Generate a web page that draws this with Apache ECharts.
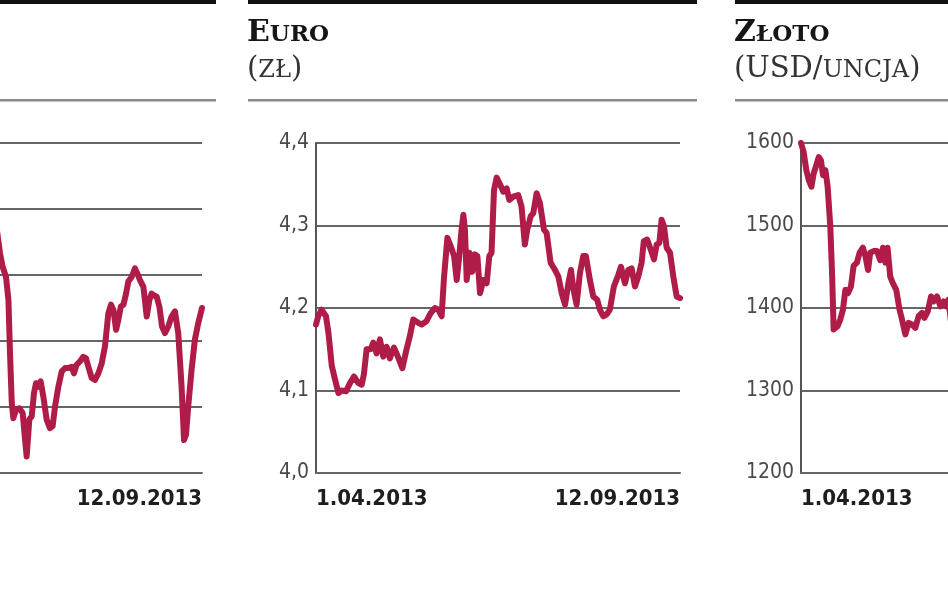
<!DOCTYPE html>
<html>
<head>
<meta charset="utf-8">
<script src="https://cdn.jsdelivr.net/npm/echarts@6/dist/echarts.min.js"></script>
<style>
html,body{margin:0;padding:0;background:#fff;}
#c{width:948px;height:593px;}
</style>
</head>
<body>
<div id="c"></div>
<script>
// x values: days since 1.04.2013 (last day 164 = 12.09.2013)
var xTickLabels = ['1.04.2013', '12.09.2013'];
var xTickDays = [0, 164];

// Left panel (only its right part is visible; its y labels are off-screen)
var leftDays = [71.5,73.0,74.2,75.7,76.8,77.5,78.3,79.0,80.2,81.7,83.2,84.3,85.0,86.2,87.3,88.3,89.2,90.3,91.3,92.5,94.0,95.5,96.7,97.8,99.3,100.8,102.3,103.8,105.3,106.3,107.5,109.0,110.5,111.7,112.8,114.3,115.8,117.3,118.8,120.3,121.8,123.0,124.1,125.3,126.3,127.4,128.6,129.8,130.8,132.3,133.8,134.9,136.1,137.6,139.1,140.3,141.3,142.4,143.6,144.8,146.0,147.3,148.8,150.3,151.8,153.3,154.8,155.9,156.8,157.8,159.3,160.8,162.3,164];
var leftValues = [2470,2433,2412,2397,2362,2281,2206,2183,2196,2198,2191,2150,2125,2181,2186,2221,2236,2231,2239,2216,2181,2168,2171,2201,2231,2254,2259,2259,2261,2251,2264,2269,2276,2274,2261,2244,2241,2251,2266,2292,2342,2355,2347,2317,2332,2352,2355,2372,2390,2397,2410,2402,2392,2382,2337,2362,2372,2369,2367,2352,2322,2312,2322,2337,2345,2312,2231,2150,2158,2201,2256,2302,2327,2350];
var leftTicks = ['2100','2200','2300','2400','2500','2600'];

// Euro (zł)
var euroDays = [0,1.0,2.5,4.5,5.6,7.1,8.6,10.1,11.6,13.5,15.3,17.1,19.1,20.6,21.6,22.8,24.6,25.8,27.3,28.8,30.3,31.8,33.3,35.1,36.6,38.9,40.8,42.3,43.8,46.1,47.6,49.8,51.7,53.6,55.1,56.6,57.7,59.2,60.7,62.2,63.4,64.4,65.6,66.4,67.1,67.9,69.1,70.4,71.5,72.7,73.9,75.4,76.9,78.1,79.1,80.2,81.4,82.9,84.4,85.9,87.1,88.9,91.1,92.6,94.1,95.2,96.7,97.9,99.4,100.9,102.7,103.9,105.7,107.7,109.2,110.7,112.2,113.7,114.9,115.9,117.4,118.9,120.4,121.6,123.4,124.9,126.7,127.9,129.4,130.9,132.4,134.2,136.2,137.4,139.2,140.7,142.2,143.7,145.2,146.7,147.7,149.2,150.8,152.3,153.5,154.7,155.7,156.8,158.0,159.5,161.0,162.5,164];
var euroValues = [4.180,4.190,4.198,4.190,4.170,4.130,4.113,4.097,4.100,4.099,4.109,4.117,4.109,4.107,4.120,4.150,4.150,4.158,4.145,4.162,4.141,4.153,4.139,4.152,4.143,4.127,4.150,4.166,4.186,4.182,4.180,4.184,4.194,4.200,4.198,4.190,4.238,4.285,4.275,4.263,4.234,4.259,4.295,4.313,4.295,4.234,4.267,4.244,4.265,4.263,4.218,4.234,4.230,4.263,4.267,4.343,4.358,4.350,4.341,4.345,4.331,4.335,4.337,4.323,4.277,4.295,4.311,4.315,4.339,4.327,4.295,4.291,4.255,4.246,4.238,4.218,4.204,4.230,4.246,4.224,4.204,4.242,4.263,4.263,4.234,4.214,4.210,4.198,4.190,4.192,4.198,4.226,4.240,4.250,4.230,4.246,4.248,4.226,4.238,4.255,4.281,4.283,4.271,4.259,4.277,4.279,4.307,4.299,4.273,4.267,4.238,4.214,4.212];
var euroTicks = ['4,0','4,1','4,2','4,3','4,4'];

// Złoto (USD/uncja) – only the first part is visible
var goldDays = [0,1.2,2.4,3.5,4.7,5.7,6.9,8.0,9.0,9.9,11.0,12.0,13.2,14.0,14.7,15.5,16.5,17.7,18.9,20.0,21.2,22.5,23.7,25.2,26.4,27.9,29.0,30.2,31.2,32.7,34.2,35.7,36.9,38.0,39.0,40.2,41.4,42.9,44.4,45.5,47.0,48.5,50.0,51.5,53.0,54.5,55.6,57.1,58.6,59.8,61.3,62.8,64.3,65.5,66.4,67.5,69.0];
var goldValues = [1600,1589,1567,1555,1547,1563,1573,1583,1579,1561,1567,1547,1499,1442,1374,1372,1378,1386,1398,1422,1418,1426,1451,1455,1467,1473,1463,1446,1467,1469,1469,1458,1473,1455,1473,1438,1430,1422,1398,1386,1368,1382,1380,1376,1390,1394,1388,1396,1414,1408,1414,1402,1408,1402,1410,1385,1380];
var goldTicks = ['1200','1300','1400','1500','1600'];

function pairs(xs, ys) { return xs.map(function (x, i) { return [x, ys[i]]; }); }

var lineColor = '#b01c48';
var labelFont = '"DejaVu Sans Condensed", "Liberation Sans Narrow", sans-serif';

var grids = [
  { left: -162, top: 143, width: 364, height: 330, outerBoundsMode: 'none', containLabel: false },
  { left: 316, top: 143, width: 364, height: 330, outerBoundsMode: 'none', containLabel: false },
  { left: 801, top: 143, width: 364, height: 330, outerBoundsMode: 'none', containLabel: false }
];
var yRanges = [
  { min: 2100, max: 2600, interval: 100, ticks: leftTicks },
  { min: 4.0, max: 4.4, interval: 0.1, ticks: euroTicks },
  { min: 1200, max: 1600, interval: 100, ticks: goldTicks }
];
var seriesData = [pairs(leftDays, leftValues), pairs(euroDays, euroValues), pairs(goldDays, goldValues)];

var xAxes = [], yAxes = [], series = [];
for (var i = 0; i < 3; i++) {
  xAxes.push({
    type: 'value', gridIndex: i, min: 0, max: 164,
    axisLine: { show: true, lineStyle: { color: '#666', width: 2 } },
    axisTick: { show: false },
    splitLine: { show: false },
    axisLabel: {
      show: true,
      customValues: xTickDays,
      alignMinLabel: 'left', alignMaxLabel: 'right',
      hideOverlap: false,
      formatter: function (v) { return v === 0 ? xTickLabels[0] : xTickLabels[1]; },
      margin: 15,
      color: '#1e1e1e', fontFamily: labelFont, fontWeight: 'bold', fontSize: 22
    }
  });
  (function (r) {
    yAxes.push({
      type: 'value', gridIndex: i, min: r.min, max: r.max, interval: r.interval,
      axisLine: { show: true, lineStyle: { color: '#555', width: 2 } },
      axisTick: { show: false },
      splitLine: { show: true, lineStyle: { color: '#666', width: 2 } },
      axisLabel: {
        margin: 7, color: '#4a4a4a', fontFamily: labelFont, fontSize: 21,
        formatter: function (v, idx) { return r.ticks[idx]; }
      }
    });
  })(yRanges[i]);
  series.push({
    type: 'line', xAxisIndex: i, yAxisIndex: i, data: seriesData[i],
    showSymbol: false, symbol: 'none', animation: false, clip: true,
    lineStyle: { color: lineColor, width: 6, join: 'round', cap: 'round' }
  });
}

var serif = '"DejaVu Serif", serif';
var titleRich = {
  big: { fontFamily: serif, fontWeight: 'bold', fontSize: 30, color: '#161616', verticalAlign: 'bottom', lineHeight: 30 },
  sc: { fontFamily: serif, fontWeight: 'bold', fontSize: 23, color: '#161616', verticalAlign: 'bottom', lineHeight: 30, padding: [0, 0, 1, 0] },
  p: { fontFamily: serif, fontWeight: 'normal', fontSize: 29, color: '#333', verticalAlign: 'bottom', lineHeight: 36 },
  s: { fontFamily: serif, fontWeight: 'normal', fontSize: 24, color: '#333', verticalAlign: 'bottom', lineHeight: 36, padding: [0, 0, 1, 0] }
};

var option = {
  backgroundColor: '#fff',
  animation: false,
  grid: grids,
  xAxis: xAxes,
  yAxis: yAxes,
  series: series,
  title: [
    { left: 247, top: 18, text: '{big|E}{sc|URO}\n{p|(}{s|ZŁ}{p|)}', textStyle: { rich: titleRich, fontWeight: 'normal' }, padding: 0 },
    { left: 734, top: 18, text: '{big|Z}{sc|ŁOTO}\n{p|(USD/}{s|UNCJA}{p|)}', textStyle: { rich: titleRich, fontWeight: 'normal' }, padding: 0 }
  ],
  graphic: [
    { type: 'rect', shape: { x: 0, y: 0, width: 216, height: 4 }, style: { fill: '#111' } },
    { type: 'rect', shape: { x: 248, y: 0, width: 449, height: 4 }, style: { fill: '#111' } },
    { type: 'rect', shape: { x: 735, y: 0, width: 213, height: 4 }, style: { fill: '#111' } },
    { type: 'rect', shape: { x: 0, y: 99, width: 216, height: 2.5 }, style: { fill: '#8a8a8a' } },
    { type: 'rect', shape: { x: 248, y: 99, width: 449, height: 2.5 }, style: { fill: '#8a8a8a' } },
    { type: 'rect', shape: { x: 735, y: 99, width: 213, height: 2.5 }, style: { fill: '#8a8a8a' } }
  ]
};

var chart = echarts.init(document.getElementById('c'), null, { renderer: 'canvas' });
chart.setOption(option);
</script>
</body>
</html>
